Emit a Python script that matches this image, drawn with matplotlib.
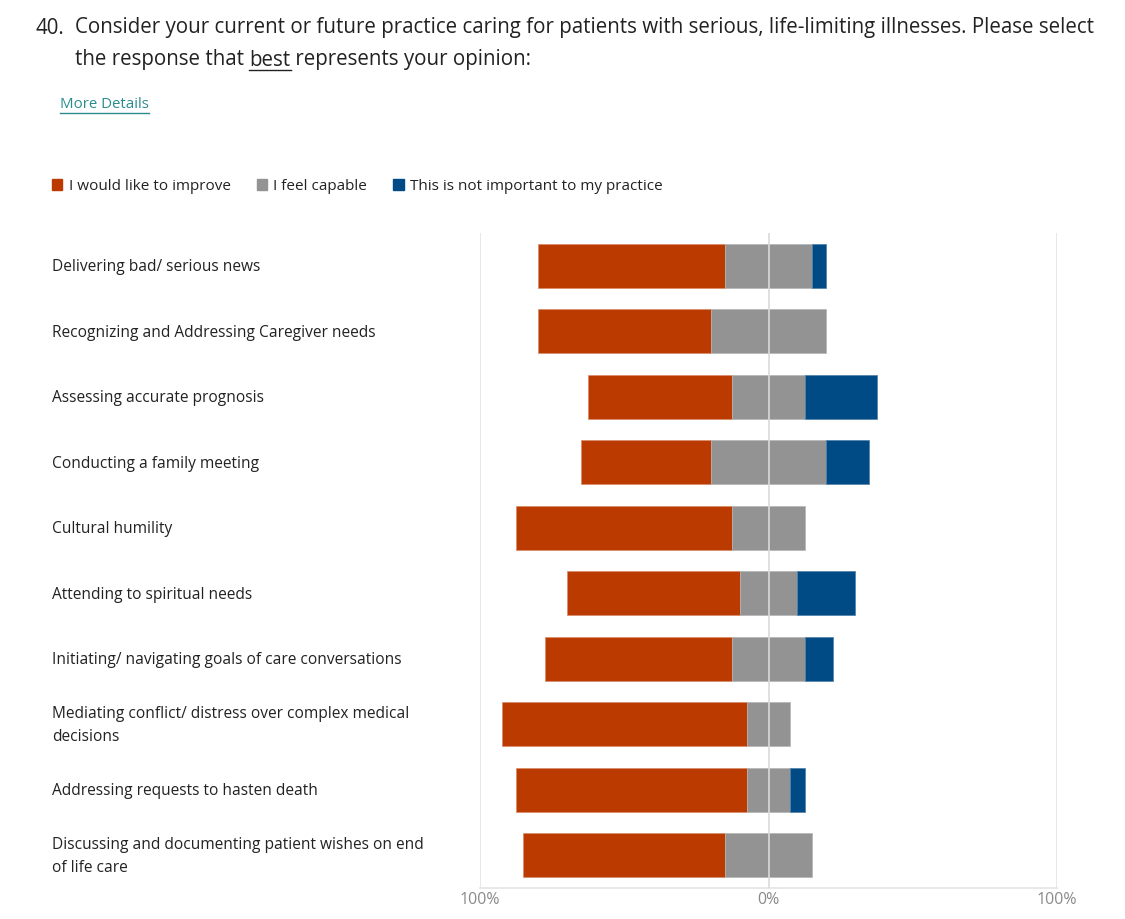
import matplotlib.pyplot as plt
from matplotlib.patches import Patch
from matplotlib.transforms import blended_transform_factory

categories = [
    "Delivering bad/ serious news",
    "Recognizing and Addressing Caregiver needs",
    "Assessing accurate prognosis",
    "Conducting a family meeting",
    "Cultural humility",
    "Attending to spiritual needs",
    "Initiating/ navigating goals of care conversations",
    "Mediating conflict/ distress over complex medical\ndecisions",
    "Addressing requests to hasten death",
    "Discussing and documenting patient wishes on end\nof life care",
]
improve = [65, 60, 50, 45, 75, 60, 65, 85, 80, 70]
capable = [30, 40, 25, 40, 25, 20, 25, 15, 15, 30]
not_important = [5, 0, 25, 15, 0, 20, 10, 0, 5, 0]
series_names = ["I would like to improve", "I feel capable",
                "This is not important to my practice"]
tick_values = [-100, 0, 100]
tick_labels = ["100%", "0%", "100%"]

RED = "#bb3a00"
GRAY = "#939393"
BLUE = "#004a86"
FONT = ["Open Sans", "DejaVu Sans"]
plt.rcParams['font.family'] = FONT

W, H = 1125, 919
fig = plt.figure(figsize=(W / 100, H / 100), dpi=100)
ax = fig.add_axes([480 / W, 1 - 888 / H, (1057 - 480) / W, (888 - 233) / H])

y = list(range(len(categories)))
left_red = [-(r + c / 2) for r, c in zip(improve, capable)]
left_gray = [-c / 2 for c in capable]
left_blue = [c / 2 for c in capable]
bh = 0.67


def lw(vals):
    # no outline on empty segments
    return [0.5 if v > 0 else 0 for v in vals]


ax.barh(y, improve, left=left_red, height=bh, color=RED, edgecolor="#d98c6a", linewidth=lw(improve), zorder=2)
ax.barh(y, capable, left=left_gray, height=bh, color=GRAY, edgecolor="#b5b5b5", linewidth=lw(capable), zorder=2)
ax.barh(y, not_important, left=left_blue, height=bh, color=BLUE, edgecolor="#4d7fa8",
        linewidth=lw(not_important), zorder=2)

ax.set_xlim(-100, 100)
ax.set_ylim(len(categories) - 0.5, -0.5)
for v in tick_values:
    ax.axvline(v, color="#e4e4e4" if v != 0 else "#dadada", lw=1.2, zorder=3 if v == 0 else 1)
for s in ["top", "left", "right"]:
    ax.spines[s].set_visible(False)
ax.spines["bottom"].set_color("#e4e4e4")
ax.spines["bottom"].set_linewidth(1.2)
ax.set_xticks(tick_values)
ax.set_xticklabels(tick_labels, color="#8a8a8a", fontsize=11.5)
ax.tick_params(axis="x", length=0, pad=3)
ax.set_yticks([])

trans = blended_transform_factory(fig.transFigure, ax.transData)
for yi, lab in zip(y, categories):
    ax.text(52 / W, yi + 0.02, lab, transform=trans, ha="left", va="center",
            fontsize=11.2, color="#222222", linespacing=1.55)

# title with underlined word
fs_title = 14.8
fig.text(35 / W, 1 - 28 / H, "40.", fontsize=fs_title, color="#222222", va="center")
fig.text(75 / W, 1 - 28 / H,
         "Consider your current or future practice caring for patients with serious, life-limiting illnesses. Please select",
         fontsize=fs_title, color="#222222", va="center")
t1 = fig.text(75 / W, 1 - 60 / H, "the response that ", fontsize=fs_title, color="#222222", va="center")
fig.canvas.draw()
r = fig.canvas.get_renderer()
bb = t1.get_window_extent(r)
t2 = fig.text(bb.x1 / W, 1 - 60 / H, "best", fontsize=fs_title, color="#222222", va="center")
bb2 = t2.get_window_extent(r)
fig.add_artist(plt.Line2D([bb2.x0 / W, bb2.x1 / W], [1 - 70 / H, 1 - 70 / H],
                          color="#222222", lw=1, transform=fig.transFigure))
fig.text(bb2.x1 / W, 1 - 60 / H, " represents your opinion:", fontsize=fs_title, color="#222222", va="center")

md = fig.text(60 / W, 1 - 105 / H, "More Details", fontsize=10.8, color="#2a8c8c", va="center")
bb3 = md.get_window_extent(r)
fig.add_artist(plt.Line2D([bb3.x0 / W, bb3.x1 / W], [1 - 113 / H, 1 - 113 / H],
                          color="#2a8c8c", lw=1, transform=fig.transFigure))

handles = [Patch(color=c, label=n) for c, n in zip([RED, GRAY, BLUE], series_names)]
fig.legend(handles=handles, loc="center left", bbox_to_anchor=(38 / W, 1 - 186 / H),
           ncol=3, frameon=False, fontsize=11, handlelength=0.7, handleheight=0.7,
           handletextpad=0.4, columnspacing=1.7, labelcolor="#222222")

fig.savefig("out.png", dpi=100)
